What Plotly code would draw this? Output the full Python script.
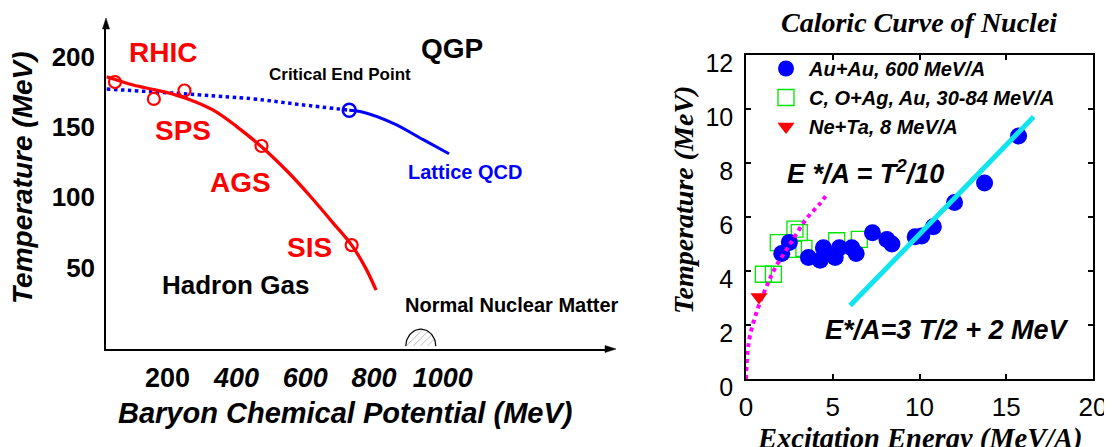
import numpy as np
import plotly.graph_objects as go

W, H = 1112, 447

# ---------------- Left panel data (phase diagram) ----------------
mu_freeze = [23, 100, 160, 220, 280, 340, 400, 473, 550, 616, 680, 735, 775, 806]
T_freeze = [185.8, 179.9, 176.6, 173.1, 168.0, 161.0, 150.5, 136.0, 118.0, 100.4, 82.0, 66.0, 50.0, 34.0]

mu_exp = [47, 160, 249, 473, 735]
T_exp = [182, 170, 176, 136.5, 66]

mu_cross = [23, 440, 585, 728]
T_cross = [177, 170.2, 166, 162]

mu_lqcd = [728, 760, 856, 943, 1018]
T_lqcd = [162, 161, 152.6, 141, 131]

mu_cep = [728]
T_cep = [162]

mu_nnm = 936  # normal nuclear matter location

x_ticks_left = [200, 400, 600, 800, 1000]
x_ticktext_left = ["<b>200</b>", "<b><i>400</i></b>", "<b><i>600</i></b>", "<b><i>800</i></b>", "<b><i>1000</i></b>"]
y_ticks_left = [50, 100, 150, 200]

# ---------------- Right panel data (caloric curve) ----------------
E_auau = [2.06, 2.50, 3.60, 4.27, 4.46, 5.14, 5.38, 6.10, 6.35, 7.29, 8.12, 8.41, 9.75, 10.13, 10.80, 12.02, 13.75, 15.71]
T_auau = [4.65, 5.06, 4.50, 4.40, 4.86, 4.50, 4.86, 4.86, 4.65, 5.42, 5.17, 5.00, 5.27, 5.30, 5.64, 6.54, 7.26, 9.00]

E_coag = [1.00, 1.58, 1.86, 2.73, 2.82, 3.07, 3.34, 5.23, 6.53]
T_coag = [3.88, 3.88, 5.05, 4.80, 5.55, 5.42, 4.84, 5.12, 5.17]

E_neta = [0.75]
T_neta = [3.04]

E_fermi = [0, 0.08, 0.23, 0.62, 1.10, 1.67, 2.54, 3.50, 4.27, 4.62]
T_fermi = [0, 0.93, 1.6, 2.5, 3.3, 4.1, 5.0, 5.95, 6.5, 6.8]

E_gas = [6.0, 16.58]
T_gas = [2.72, 9.71]

# ---------------- helpers ----------------
OFF = 8  # the page body margin shifts the figure by this many pixels

def fx(p):
    return (p - OFF) / W

def fy(p):
    return 1 - (p - OFF) / H

SANS = "Liberation Sans, Arial, sans-serif"
SERIF = "Liberation Serif, Times New Roman, serif"
RED = "#ff0000"
BLUE = "#0000ff"

fig = go.Figure()

# Left panel traces
fig.add_trace(go.Scatter(x=mu_cross, y=T_cross, mode="lines", line=dict(color=BLUE, width=3.5, dash="dot", shape="spline"),
                         xaxis="x", yaxis="y", showlegend=False, hoverinfo="skip"))
fig.add_trace(go.Scatter(x=mu_lqcd, y=T_lqcd, mode="lines", line=dict(color=BLUE, width=3, shape="spline"),
                         xaxis="x", yaxis="y", showlegend=False))
fig.add_trace(go.Scatter(x=mu_freeze, y=T_freeze, mode="lines", line=dict(color=RED, width=3.3, shape="spline", smoothing=1.0),
                         xaxis="x", yaxis="y", showlegend=False))
fig.add_trace(go.Scatter(x=mu_exp, y=T_exp, mode="markers",
                         marker=dict(symbol="circle-open", size=12, color=RED, line=dict(width=2.2, color=RED)),
                         xaxis="x", yaxis="y", showlegend=False))
fig.add_trace(go.Scatter(x=mu_cep, y=T_cep, mode="markers",
                         marker=dict(symbol="circle-open", size=13, color=BLUE, line=dict(width=2.5, color=BLUE)),
                         xaxis="x", yaxis="y", showlegend=False))

# hatched half-disc for normal nuclear matter (geometry around the data point)
ang = np.linspace(0, np.pi, 40)
rx, ry = 43.6, 12.0
base = -5.8
fig.add_trace(go.Scatter(x=mu_nnm + rx * np.cos(ang), y=base + ry * np.sin(ang), mode="lines",
                         fill="toself", fillcolor="white",
                         fillpattern=dict(shape="/", fgcolor="#444444", bgcolor="white", size=5, solidity=0.15),
                         line=dict(color="black", width=1.2), xaxis="x", yaxis="y", showlegend=False))

# Right panel traces
fig.add_trace(go.Scatter(x=E_coag, y=T_coag, mode="markers", name="C, O+Ag, Au, 30-84 MeV/A", legendrank=2,
                         marker=dict(symbol="square-open", size=16, color="#00e600", line=dict(width=1.3, color="#00e600")),
                         xaxis="x2", yaxis="y2"))
fig.add_trace(go.Scatter(x=E_auau, y=T_auau, mode="markers", name="Au+Au, 600 MeV/A", legendrank=1,
                         marker=dict(symbol="circle", size=17, color=BLUE),
                         xaxis="x2", yaxis="y2"))
fig.add_trace(go.Scatter(x=E_fermi, y=T_fermi, mode="lines", line=dict(color="#ff00ff", width=4, dash="dot", shape="spline"),
                         xaxis="x2", yaxis="y2", showlegend=False))
fig.add_trace(go.Scatter(x=E_gas, y=T_gas, mode="lines", line=dict(color="#10e4ee", width=5),
                         xaxis="x2", yaxis="y2", showlegend=False))
fig.add_trace(go.Scatter(x=E_neta, y=T_neta, mode="markers", name="Ne+Ta, 8 MeV/A", legendrank=3,
                         marker=dict(symbol="triangle-down", size=15, color=RED),
                         xaxis="x2", yaxis="y2"))

annotations = []

def text(x, y, s, size, color="black", family=SANS, weight="bold", style="normal", angle=0):
    annotations.append(dict(x=fx(x), y=fy(y), xref="paper", yref="paper", text=s, showarrow=False,
                            xanchor="center", yanchor="middle", textangle=angle,
                            font=dict(family=family, size=size, color=color, weight=weight, style=style)))

# left panel labels
text(162.5, 53, "RHIC", 28, RED)
text(182.5, 130, "SPS", 28, RED)
text(240, 182, "AGS", 28, RED)
text(309, 247, "SIS", 28, RED)
text(235, 285, "Hadron Gas", 26)
text(451.7, 48, "QGP", 28)
text(340.5, 74, "Critical End Point", 17)
text(465, 172, "Lattice QCD", 20, BLUE)
text(511.7, 305, "Normal Nuclear Matter", 20)
text(22, 178, "Temperature (MeV)", 28, style="italic", angle=-90)
text(345, 413, "Baryon Chemical Potential (MeV)", 29, style="italic")

# right panel labels
text(919, 22, "Caloric Curve of Nuclei", 28, family=SERIF, style="italic")
text(683, 200, "Temperature (MeV)", 28, family=SERIF, style="italic", angle=-90)
text(919.5, 439, "Excitation Energy (MeV/A)", 28.5, family=SERIF, style="italic")
text(865, 172, "E */A = T<sup>2</sup>/10", 27, style="italic")
text(946.7, 330, "E*/A=3 T/2 + 2 MeV", 27, style="italic")

# arrowheads of the left panel axes
def tri(p1, p2, p3):
    pts = [p1, p2, p3]
    return "M " + " L ".join(f"{fx(a):.5f},{fy(b):.5f}" for a, b in pts) + " Z"

shapes = [
    dict(type="path", xref="paper", yref="paper", path=tri((106, 18), (102.5, 29), (109.5, 29)),
         fillcolor="black", line=dict(color="black", width=0.5)),
    dict(type="path", xref="paper", yref="paper", path=tri((616, 349), (605, 345.5), (605, 352.5)),
         fillcolor="black", line=dict(color="black", width=0.5)),
]

fig.update_layout(
    width=W, height=H,
    margin=dict(l=0, r=0, t=0, b=0, autoexpand=False),
    plot_bgcolor="white", paper_bgcolor="white",
    annotations=annotations,
    shapes=shapes,
    xaxis=dict(domain=[fx(106), fx(610)], range=[20.9, 1486], showgrid=False, zeroline=False,
               showline=True, linecolor="black", linewidth=1.5, automargin=False,
               tickvals=x_ticks_left, ticktext=x_ticktext_left, ticks="", ticklabelstandoff=4,
               tickfont=dict(family=SANS, size=27, color="black"), anchor="y"),
    yaxis=dict(domain=[fy(349), fy(24)], range=[-7.9, 223.3], showgrid=False, zeroline=False,
               showline=True, linecolor="black", linewidth=1.5, automargin=False,
               tickvals=y_ticks_left, ticks="", ticklabelstandoff=4,
               tickfont=dict(family=SANS, size=26, color="black", weight="bold"), anchor="x"),
    xaxis2=dict(domain=[fx(746), fx(1093)], range=[0, 20], dtick=5, showgrid=False, zeroline=False,
                showline=True, linecolor="black", linewidth=1.5, mirror="ticks", ticks="inside", ticklen=5,
                tickcolor="black", tickwidth=1.5, ticklabelstandoff=4, automargin=False,
                tickfont=dict(family=SANS, size=26, color="black"), anchor="y2"),
    yaxis2=dict(domain=[fy(379), fy(55)], range=[0, 12], dtick=2, showgrid=False, zeroline=False,
                showline=True, linecolor="black", linewidth=1.5, mirror="ticks", ticks="inside", ticklen=5,
                tickcolor="black", tickwidth=1.5, ticklabelstandoff=6, ticklabelshift=8, automargin=False,
                tickfont=dict(family=SANS, size=25, color="black"), anchor="x2"),
    legend=dict(x=fx(763), y=fy(49), xanchor="left", yanchor="top", bgcolor="rgba(0,0,0,0)",
                font=dict(family=SANS, size=20, color="black", weight="bold", style="italic"),
                itemsizing="trace", itemwidth=36, tracegroupgap=0),
)

fig.write_html("out.html")
